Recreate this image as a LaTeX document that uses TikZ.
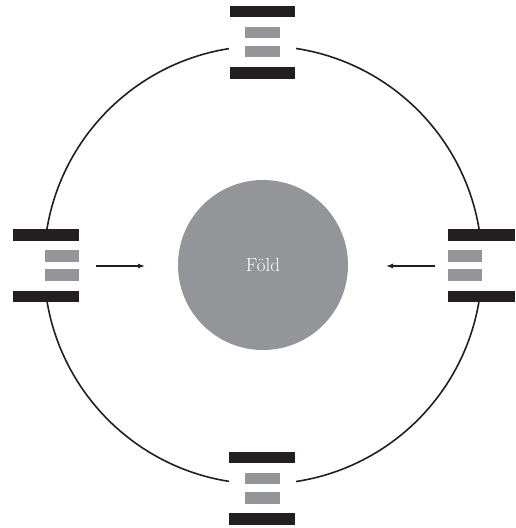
\documentclass[tikz,border=0pt]{standalone}
\usetikzlibrary{arrows.meta}
\definecolor{barblack}{HTML}{231F20}
\definecolor{bargray}{HTML}{939598}
\begin{document}
\begin{tikzpicture}[x=1pt,y=-1pt,
  gapbox/.style={fill=white,draw=none,inner sep=0pt,anchor=north west},
  blackbar/.style={fill=barblack,draw=none},
  graybar/.style={fill=bargray,draw=none},
  orbit/.style={draw=barblack,line width=1.6pt},
  earth/.style={circle,fill=bargray,draw=none,minimum size=170pt,inner sep=0pt,
    text=white,font=\fontsize{19}{20}\selectfont},
  pusharrow/.style={draw=barblack,line width=1.2pt,-{Latex[length=7pt,width=5pt]}}]
\useasboundingbox (0,0) rectangle (515,528);
% orbit
\draw[orbit] (263,265) circle (219pt);
% gaps in the orbit where the groups sit
\node[gapbox,minimum width=67pt,minimum height=73pt] (topgrp) at (229,6) {};
\node[gapbox,minimum width=67pt,minimum height=73pt] (botgrp) at (229,452) {};
\node[gapbox,minimum width=66pt,minimum height=73pt] (leftgrp) at (13,229) {};
\node[gapbox,minimum width=67pt,minimum height=73pt] (rightgrp) at (448,229) {};
% top group
\fill[blackbar] (230,6) rectangle (295,17);
\fill[graybar] (245,27) rectangle (280,38);
\fill[graybar] (245,46) rectangle (280,57);
\fill[blackbar] (230,67) rectangle (295,79);
% bottom group
\fill[blackbar] (229,452) rectangle (295,463);
\fill[graybar] (245,473) rectangle (280,484);
\fill[graybar] (245,492) rectangle (280,504);
\fill[blackbar] (229,513) rectangle (295,525);
% left group
\fill[blackbar] (13,229) rectangle (79,241);
\fill[graybar] (45,250) rectangle (79,262);
\fill[graybar] (45,269) rectangle (79,281);
\fill[blackbar] (13,291) rectangle (79,302);
% right group
\fill[blackbar] (448,229) rectangle (515,241);
\fill[graybar] (448,250) rectangle (482,262);
\fill[graybar] (448,269) rectangle (482,281);
\fill[blackbar] (448,291) rectangle (515,302);
% earth
\node[earth] (fold) at (263,265) {Föld};
% arrows
\coordinate (la) at (96,266);
\coordinate (lb) at (145,266);
\coordinate (ra) at (435,266);
\coordinate (rb) at (386,266);
\draw[pusharrow] (la) -- (lb);
\draw[pusharrow] (ra) -- (rb);
\end{tikzpicture}
\end{document}
